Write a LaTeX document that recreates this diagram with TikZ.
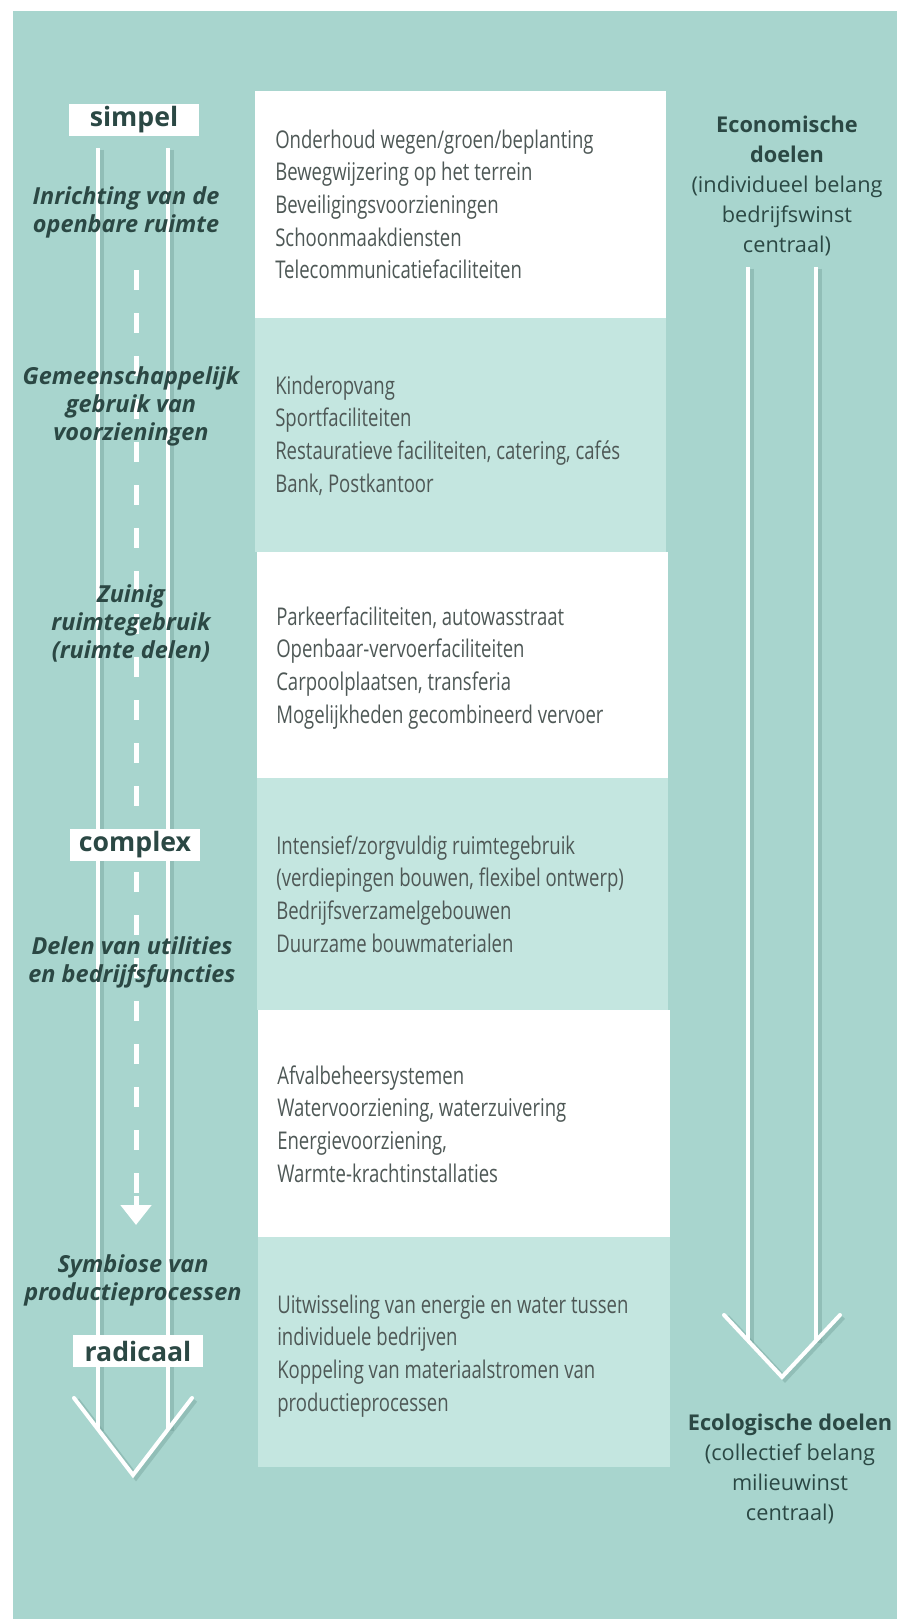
\documentclass[tikz,border=0pt]{standalone}
\usepackage{fontspec}
\setmainfont{Open Sans}
\newfontfamily\listfont[FakeStretch=0.76]{Open Sans}
\usetikzlibrary{arrows.meta,positioning}
\definecolor{bgteal}{HTML}{A8D5CE}
\definecolor{lightteal}{HTML}{C4E6E0}
\definecolor{labelink}{HTML}{2B4844}
\definecolor{listink}{HTML}{4E5856}
\definecolor{roadgray}{HTML}{6F9D96}

\begin{document}
\begin{tikzpicture}[x=0.75pt,y=-0.75pt,
  road/.style={white,line width=3pt},
  roadshadow/.style={draw=roadgray,line width=4pt,opacity=.4},
  list/.style={anchor=base west,align=left,inner sep=0pt,text=listink,font=\listfont\fontsize{18.3}{24.5}\selectfont},
  phase/.style={anchor=base,align=center,inner sep=0pt,text=labelink,font=\bfseries\itshape\fontsize{17.6}{21}\selectfont},
  level/.style={fill=white,inner sep=0pt,minimum width=97.5pt,minimum height=24pt,text=labelink,font=\bfseries\fontsize{20}{22}\selectfont},
  goal/.style={anchor=base,align=center,inner sep=0pt,text=labelink,font=\fontsize{16.3}{22.5}\selectfont}]
\useasboundingbox (0,0) rectangle (897,1619);
\fill[white] (0,0) rectangle (897,1619);
\fill[bgteal] (13,11) rectangle (897,1619);
% bands with measures
\fill[white] (255,91) rectangle (666,318);
\fill[lightteal] (255,318) rectangle (666,552);
\fill[white] (257,552) rectangle (668,778);
\fill[lightteal] (257,778) rectangle (668,1010);
\fill[white] (258,1010) rectangle (670,1237);
\fill[lightteal] (258,1237) rectangle (670,1467);

% left road arrow
\coordinate (lt) at (133,1475);
\draw[roadshadow] (101,150) -- (101,1431); \draw[roadshadow] (171,150) -- (171,1431);
\draw[roadshadow] (77,1400) -- (136,1477) -- (195,1400);
\draw[road] (98,148) -- (98,1429); \draw[road] (168,148) -- (168,1429);
\draw[road,line cap=round] (74,1398) -- (lt) -- (192,1398);
\draw[white,line width=3.75pt,dash pattern=on 15pt off 17.25pt] (136,270) -- (136,1200);
\draw[white,line width=3.75pt,-{Triangle[width=22.5pt,length=15pt]}] (136,1196) -- (136,1225);

% right goal arrow
\coordinate (rt) at (782,1377);
\draw[roadshadow] (751,269) -- (751,1343); \draw[roadshadow] (819,269) -- (819,1343);
\draw[roadshadow] (727,1317) -- (785,1379) -- (843,1317);
\draw[road] (748,267) -- (748,1341); \draw[road] (816,267) -- (816,1341);
\draw[road,line cap=round] (724,1315) -- (rt) -- (840,1315);

% levels
\node[level] (simpel) at (134,120) {simpel};
\node[level] (complex) at (135,845) {complex};
\node[level] (radicaal) at (138,1351) {radicaal};

% phases (base = last line)
\node[phase] (inrichting) at (126,233) {Inrichting van de\\openbare ruimte};
\node[phase] (gemeen) at (131,440) {Gemeenschappelijk\\gebruik van\\voorzieningen};
\node[phase] (zuinig) at (131,658) {Zuinig\\ruimtegebruik\\(ruimte delen)};
\node[phase] (delen) at (132,982) {Delen van utilities\\en bedrijfsfuncties};
\node[phase] (symbiose) at (133,1300) {Symbiose van\\productieprocessen};

% measures
\node[list] (openbaar) at (275,279) {Onderhoud wegen/groen/beplanting\\Bewegwijzering op het terrein\\Beveiligingsvoorzieningen\\Schoonmaakdiensten\\Telecommunicatiefaciliteiten};
\node[list] (gedeeld) at (275,492) {Kinderopvang\\Sportfaciliteiten\\Restauratieve faciliteiten, catering, cafés\\Bank, Postkantoor};
\node[list] (vervoer) at (276,723) {Parkeerfaciliteiten, autowasstraat\\Openbaar-vervoerfaciliteiten\\Carpoolplaatsen, transferia\\Mogelijkheden gecombineerd vervoer};
\node[list] (ruimte) at (276,952) {Intensief/zorgvuldig ruimtegebruik\\(verdiepingen bouwen, flexibel ontwerp)\\Bedrijfsverzamelgebouwen\\Duurzame bouwmaterialen};
\node[list] (utility) at (277,1182) {Afvalbeheersystemen\\Watervoorziening, waterzuivering\\Energievoorziening,\\Warmte-krachtinstallaties};
\node[list] (proces) at (277,1411) {Uitwisseling van energie en water tussen\\individuele bedrijven\\Koppeling van materiaalstromen van\\productieprocessen};

% goals
\node[goal] (econ) at (787,253) {\textbf{Economische}\\\textbf{doelen}\\(individueel belang\\bedrijfswinst\\centraal)};
\node[goal] (eco) at (790,1520) {\textbf{Ecologische doelen}\\(collectief belang\\milieuwinst\\centraal)};
\end{tikzpicture}
\end{document}
